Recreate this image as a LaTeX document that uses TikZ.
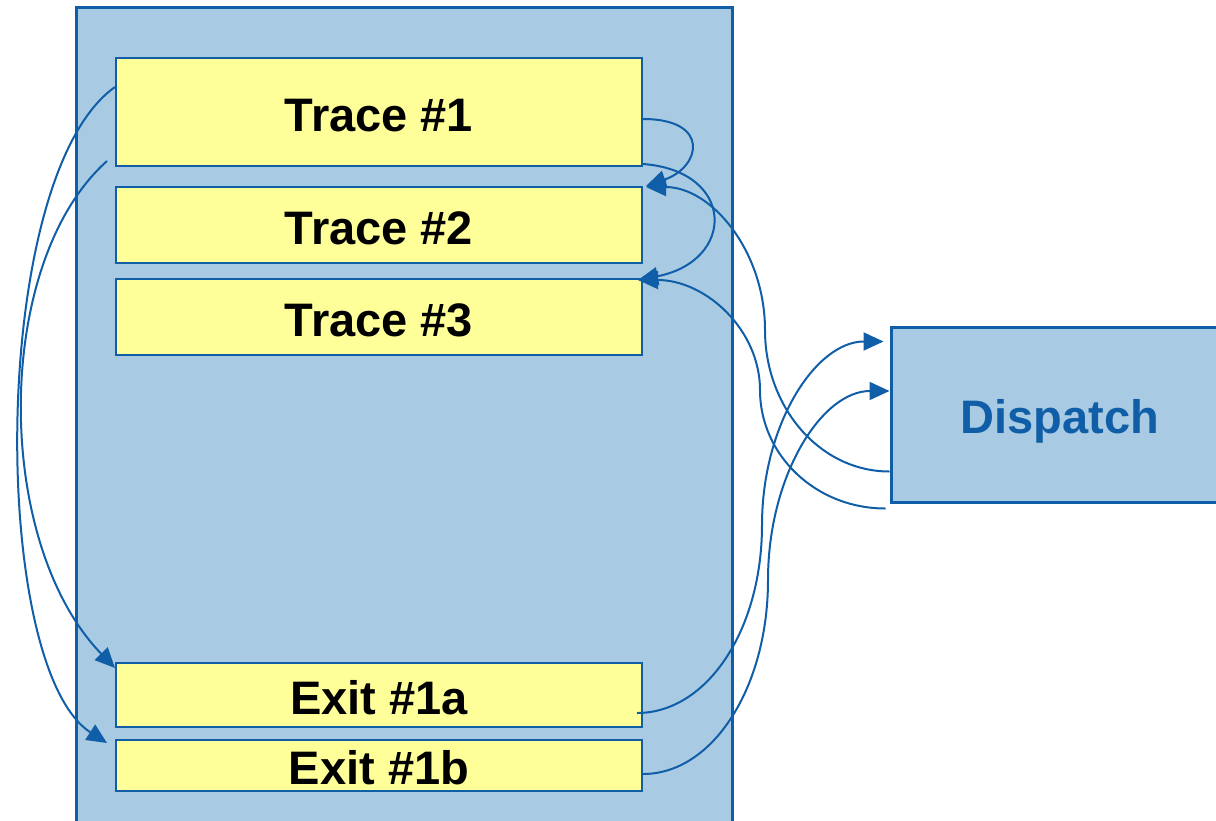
\documentclass[tikz,border=0pt]{standalone}
\usepackage{fontspec}
\setmainfont{Liberation Sans}
\usetikzlibrary{arrows.meta}
\definecolor{edgeblue}{RGB}{16,94,168}
\definecolor{cachefill}{RGB}{168,202,226}
\definecolor{tracefill}{RGB}{255,255,153}
\tikzset{
  labelfont/.style={font=\fontsize{47}{51}\selectfont\bfseries, text height=38pt, text depth=0pt},
  region/.style={draw=edgeblue, line width=3pt, fill=cachefill, rectangle, inner sep=0pt},
  tracebox/.style={draw=edgeblue, line width=2pt, fill=tracefill, rectangle, inner sep=0pt,
    minimum width=526pt, labelfont},
  link/.style={draw=edgeblue, line width=2pt},
  linkarrow/.style={link, -{Triangle[length=20pt,width=18pt]}}
}
\begin{document}
\begin{tikzpicture}[x=1pt, y=-1pt]
  \useasboundingbox (0,0) rectangle (1216,820);
  \clip (0,0) rectangle (1216,820);

  % code cache region and dispatcher
  \node[region, minimum width=656pt, minimum height=823pt] (cache) at (404,418.5) {};
  \node[region, minimum width=338pt, minimum height=175pt, text=edgeblue,
        labelfont, text height=37pt] (dispatch) at (1060,414.5) {Dispatch};

  % traces and exit stubs
  \node[tracebox, minimum height=108pt] (t1) at (379,112) {Trace \#1};
  \node[tracebox, minimum height=76pt]  (t2) at (379,225) {Trace \#2};
  \node[tracebox, minimum height=76pt]  (t3) at (379,317) {Trace \#3};
  \node[tracebox, minimum height=64pt]  (e1a) at (379,695) {Exit \#1a};
  \node[tracebox, minimum height=51pt]  (e1b) at (379,765.5) {Exit \#1b};

  % trace #1 branches to its exit stubs
  \draw[linkarrow] ([yshift=25pt]t1.west)
    .. controls +(-126,89) and +(-118,-76) .. ([xshift=-8pt,yshift=22.5pt]e1b.west);
  \draw[linkarrow] ([xshift=-8pt,yshift=6pt]t1.south west)
    .. controls +(-114,102) and +(-122,-126) .. ([yshift=27pt]e1a.west);

  % trace #1 linked directly to traces #2 and #3
  \draw[linkarrow] ([yshift=-7pt]t1.east)
    .. controls +(68,0) and +(55,-19) .. ([xshift=3pt]t2.north east);
  \draw[linkarrow] ([yshift=3pt]t1.south east)
    .. controls +(93,7) and +(98,-19) .. ([xshift=-5pt,yshift=-2pt]t3.north east);

  % dispatcher enters traces #2 and #3
  \draw[linkarrow] ([yshift=32pt]dispatch.south west)
    .. controls +(-70,0) and +(0,77) .. (765,330)
    .. controls +(0,-78) and +(66,0) .. ([xshift=3pt,yshift=-1pt]t2.north east);
  \draw[linkarrow] ([xshift=-4pt,yshift=-5pt]dispatch.south west)
    .. controls +(-70,0) and +(0,65) .. (760,390)
    .. controls +(0,-60) and +(68,0) .. ([xshift=-5pt,yshift=-2pt]t3.north east);

  % exit stubs return to the dispatcher
  \draw[linkarrow] ([xshift=-6pt,yshift=-18pt]e1a.east)
    .. controls +(70,0) and +(0,105) .. (762,525)
    .. controls +(0,-100) and +(-68,0) .. ([xshift=-6pt,yshift=-16pt]dispatch.north west);
  \draw[linkarrow] ([yshift=-8.5pt]e1b.east)
    .. controls +(70,0) and +(0,107) .. (768,580)
    .. controls +(0,-104) and +(-68,0) .. ([yshift=23.5pt]dispatch.west);
\end{tikzpicture}
\end{document}
